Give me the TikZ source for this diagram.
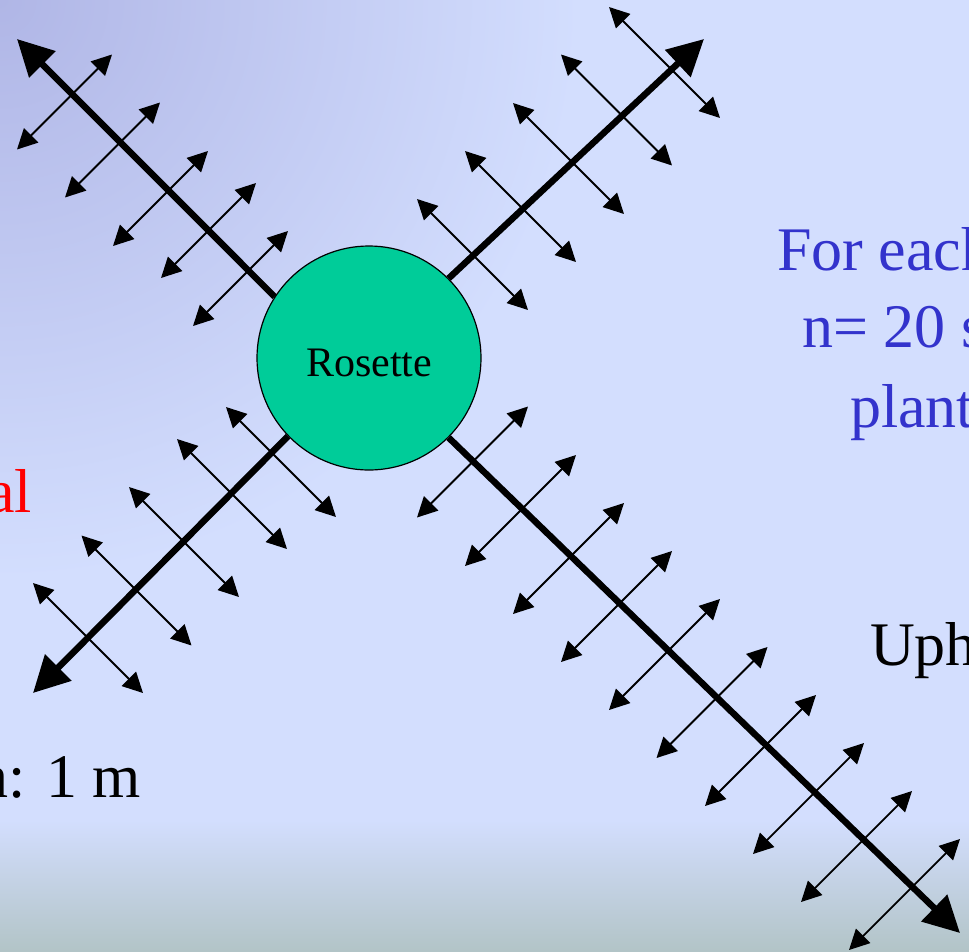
\documentclass[tikz,border=0pt]{standalone}
\usepackage{fontspec}
\setmainfont{Liberation Serif}
\usepackage{xcolor}
\usepackage{tikz}
\usetikzlibrary{arrows.meta, shapes.geometric, positioning}

\definecolor{slidebg}{RGB}{211,222,254}
\definecolor{slidecorner}{RGB}{176,182,230}
\definecolor{slidefloor}{RGB}{178,196,199}
\definecolor{rosettegreen}{RGB}{0,204,153}
\definecolor{noteblue}{RGB}{51,51,204}

\begin{document}
\begin{tikzpicture}[
    x=1pt, y=-1pt,
    rosette node/.style = {
        circle,
        draw=black,
        line width=1.2pt,
        fill=rosettegreen,
        minimum size=224pt,
        inner sep=0pt,
        font=\fontsize{42}{50}\selectfont
    },
    transect/.style = {
        -{Triangle[length=36pt,width=36pt]},
        line width=6.5pt
    },
    sample/.style = {
        <->, >={Triangle[length=20pt,width=20pt]},
        line width=1.8pt
    },
    slide text/.style = {
        anchor=base west,
        inner sep=0pt,
        font=\fontsize{62}{74}\selectfont
    }
]

\useasboundingbox (0,0) rectangle (969,951);
\clip (0,0) rectangle (969,951);

% slide background
\fill[slidebg] (0,0) rectangle (969,951);
\shade[inner color=slidecorner, outer color=slidebg] (0,0) circle (580);
\shade[top color=slidebg, bottom color=slidefloor] (0,820) rectangle (969,951);

\node [rosette node] (ros) at (369,358) {\raisebox{-5pt}[\height][\depth]{Rosette}};

\coordinate (nwtip) at (17,39);
\coordinate (netip) at (704,39);
\coordinate (swtip) at (33,693);
\coordinate (setip) at (960,933);

% transects
\draw[transect] (ros.147) -- (nwtip);
\draw[transect] (ros.45) -- (netip);
\draw[transect] (ros.224) -- (swtip);
\draw[transect] (ros.315) -- (setip);

% sampling points along each transect
\foreach \cx/\cy in {64.5/102, 112.5/150, 160.5/198.5, 208.5/230.5, 240.5/278.5}
    \draw[sample] (\cx-47.5,\cy+47.5) -- (\cx+47.5,\cy-47.5);

\foreach \cx/\cy in {664.5/62.5, 616.5/110, 568.5/158.5, 520.5/206.5, 472.5/254.5}
    \draw[sample] (\cx-55.5,\cy-55.5) -- (\cx+55.5,\cy+55.5);

\foreach \cx/\cy in {281/462, 232/494, 184/542, 136.5/590.5, 88/638}
    \draw[sample] (\cx-55,\cy-55) -- (\cx+55,\cy+55);

\foreach \cx/\cy in {472.5/462, 520.5/510.5, 568.5/558.5, 616.5/606.5, 664.5/654.5,
                     712/702.5, 760.5/750.5, 808.5/798.5, 856.5/846.5, 904.5/894.5}
    \draw[sample] (\cx-55.5,\cy+55.5) -- (\cx+55.5,\cy-55.5);

% labels
\node [slide text, text=noteblue] (note1) at (777,270) {For each};
\node [slide text, text=noteblue] (note2) at (802,347) {n= 20 s};
\node [slide text, text=noteblue] (note3) at (850,427) {plant};
\node [slide text] (uphill) at (870,665) {Uph};
\node [slide text, anchor=base east, text=red] (redlabel) at (32,512) {al};
\node [slide text, anchor=base east] (spacing) at (141,797) {n: 1 m};

\end{tikzpicture}
\end{document}
